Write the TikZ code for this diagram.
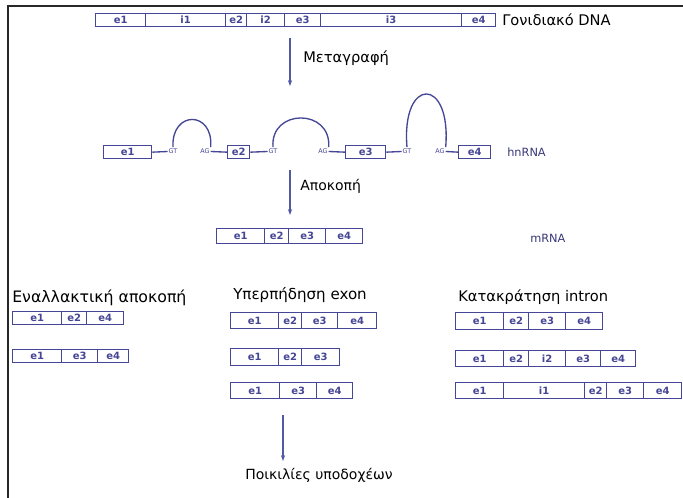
\documentclass[tikz,border=0pt]{standalone}
\usepackage{fontspec}
\setmainfont{DejaVu Sans}
\usetikzlibrary{arrows.meta}
\definecolor{boxblue}{RGB}{70,70,150}
\definecolor{arrblue}{RGB}{80,90,165}
\definecolor{framegray}{RGB}{40,40,40}
\tikzset{
  seg/.style={draw=boxblue, line width=1pt, inner sep=0pt, font=\fontsize{7.5}{8}\selectfont\bfseries, text=boxblue},
  lbl/.style={font=\fontsize{11}{13}\selectfont, text=black, inner sep=0pt, anchor=west},
  rnalbl/.style={font=\fontsize{8.5}{10}\selectfont, text=boxblue!80!black, inner sep=0pt, anchor=west},
  tinylbl/.style={font=\fontsize{4.8}{5}\selectfont, text=boxblue, inner xsep=0.6pt, inner ysep=0pt},
  arr/.style={draw=arrblue, line width=0.8pt, -{Stealth[length=4.5pt,width=3.2pt]}},
  link/.style={draw=boxblue, line width=1pt},
}
% \segbox{name}{x1}{x2}{ytop}{ybot}{text}
\newcommand\segbox[6]{%
  \node[seg, minimum width={(#3-#2)*0.75pt}, minimum height={(#5-#4)*0.75pt}, anchor=north west] (#1) at (#2,#4) {#6};}
% \segrow{prefix}{ytop}{ybot}{x1/x2/text,...}
\newcommand\segrow[4]{%
  \foreach \xa/\xb/\tx [count=\i] in {#4} {\segbox{#1\i}{\xa}{\xb}{#2}{#3}{\tx}}}
\begin{document}
\begin{tikzpicture}[x=0.75pt,y=-0.75pt]
\useasboundingbox (0,0) rectangle (683,498);
\fill[white] (0,0) rectangle (683,498);
\draw[framegray, line width=1.5pt] (8,498) -- (8,6) -- (683,6);

% Gene DNA
\segrow{dna}{13}{26}{95/145/e1, 145/225/i1, 225/246/e2, 246/284/i2, 284/320/e3, 320/461/i3, 461/495/e4}
\node[lbl] (dnalbl) at (502,20) {Γονιδιακό DNA};

% transcription arrow
\coordinate (a1s) at (290,38);
\coordinate (a1e) at (290,86);
\draw[arr] (a1s) -- (a1e);
\node[lbl] (transc) at (303,58) {Μεταγραφή};

% hnRNA
\segbox{h1}{103}{151}{145}{158}{e1}
\segbox{h2}{227}{249}{145}{158}{e2}
\segbox{h3}{345}{385}{145}{158}{e3}
\segbox{h4}{458}{490}{145}{158}{e4}
\node[tinylbl] (gt1) at (173,151.5) {GT};
\node[tinylbl] (ag1) at (205,151.5) {AG};
\node[tinylbl] (gt2) at (273,151.5) {GT};
\node[tinylbl] (ag2) at (323,151.5) {AG};
\node[tinylbl] (gt3) at (407,151.5) {GT};
\node[tinylbl] (ag3) at (440,151.5) {AG};
\draw[link] (h1.east) -- (gt1.west);
\draw[link] (ag1.east) -- (h2.west);
\draw[link] (h2.east) -- (gt2.west);
\draw[link] (ag2.east) -- (h3.west);
\draw[link] (h3.east) -- (gt3.west);
\draw[link] (ag3.east) -- (h4.west);
\draw[link] ([yshift=1.2pt]gt1.north) .. controls +(-2,-37) and +(3,-37) .. ([yshift=1.2pt]ag1.north east);
\draw[link] ([yshift=1.2pt]gt2.north) .. controls +(-3,-39) and +(3,-39) .. ([yshift=1.2pt]ag2.north east);
\draw[link] ([yshift=1.2pt]gt3.north) .. controls +(-6,-71) and +(6,-71) .. ([yshift=1.2pt]ag3.north east);
\node[rnalbl] (hnrna) at (507,152) {hnRNA};

% splicing arrow
\coordinate (a2s) at (290,170);
\coordinate (a2e) at (290,215);
\draw[arr] (a2s) -- (a2e);
\node[lbl, font=\fontsize{10.5}{12}\selectfont] (splice) at (300,186) {Αποκοπή};

% mRNA
\segrow{m}{228}{243}{216/264/e1, 264/288/e2, 288/325/e3, 325/362/e4}
\node[rnalbl] (mrna) at (530,238) {mRNA};

% Alternative splicing
\node[lbl, font=\fontsize{11.8}{13}\selectfont] (alt) at (12,298) {Εναλλακτική αποκοπή};
\segrow{aa}{311}{324}{12/61/e1, 61/86/e2, 86/123/e4}
\segrow{ab}{349}{362}{12/61/e1, 61/97/e3, 97/128/e4}

% Exon skipping
\node[lbl, font=\fontsize{11.3}{13}\selectfont] (skip) at (233,295) {Υπερπήδηση exon};
\segrow{sa}{312}{328}{230/278/e1, 278/301/e2, 301/337/e3, 337/376/e4}
\segrow{sb}{348}{365}{230/278/e1, 278/301/e2, 301/339/e3}
\segrow{sc}{382}{398}{230/279/e1, 279/316/e3, 316/352/e4}

% Intron retention
\node[lbl] (ret) at (458,297) {Κατακράτηση intron};
\segrow{ra}{312}{329}{455/503/e1, 503/528/e2, 528/565/e3, 565/602/e4}
\segrow{rb}{350}{366}{455/503/e1, 503/528/e2, 528/565/i2, 565/600/e3, 600/635/e4}
\segrow{rc}{382}{398}{455/503/e1, 503/584/i1, 584/606/e2, 606/643/e3, 643/681/e4}

% receptor variants
\coordinate (a3s) at (283,415);
\coordinate (a3e) at (283,461);
\draw[arr] (a3s) -- (a3e);
\node[lbl, font=\fontsize{10.5}{12}\selectfont] (variants) at (245,475) {Ποικιλίες υποδοχέων};
\end{tikzpicture}
\end{document}
